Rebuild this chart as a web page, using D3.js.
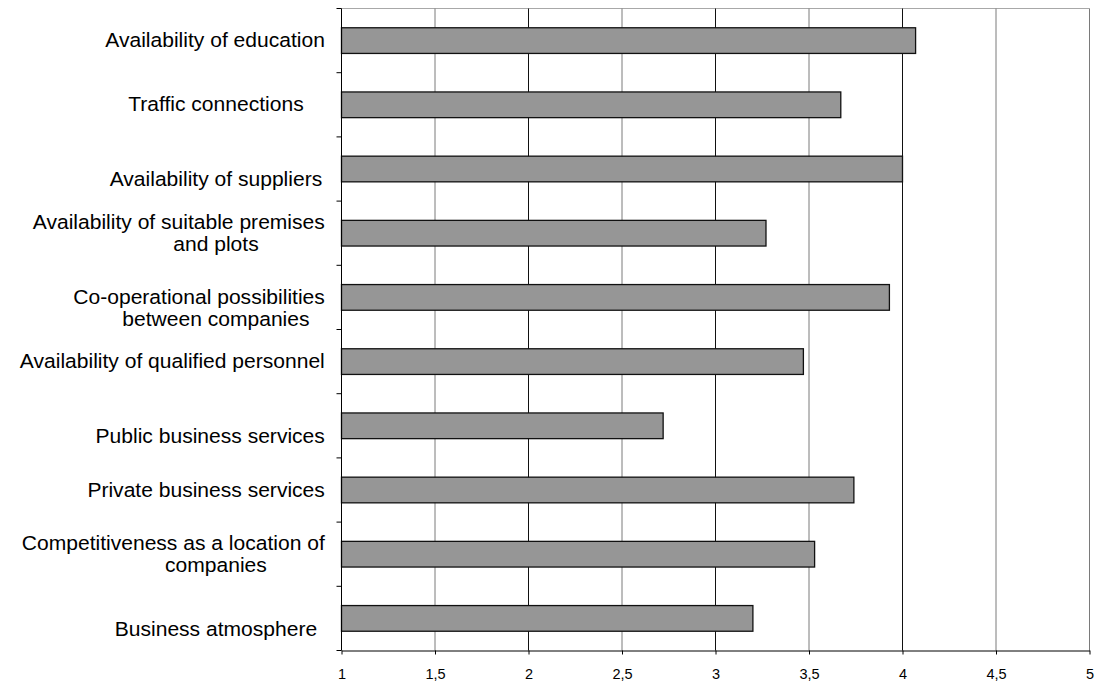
<!DOCTYPE html>
<html>
<head>
<meta charset="utf-8">
<script src="https://cdn.jsdelivr.net/npm/d3@7"></script>
<style>
  body { margin: 0; background: #fff; }
  svg { display: block; }
  text { font-family: "Liberation Sans", Arial, sans-serif; fill: #000; }
</style>
</head>
<body>
<svg id="chart" width="1096" height="684"></svg>
<script>
// Category labels (line breaks as in the source sheet)
const categories = [
  "Availability of education",
  "Traffic connections",
  "\nAvailability of suppliers",
  "Availability of suitable premises\nand plots",
  "\nCo-operational possibilities\nbetween companies",
  "Availability of qualified personnel",
  "\nPublic business services",
  "Private business services",
  "Competitiveness as a location of\ncompanies",
  "\nBusiness atmosphere"
];
// Mean rating per factor
const values = [4.07, 3.67, 4.00, 3.27, 3.93, 3.47, 2.72, 3.74, 3.53, 3.20];
// Value axis ticks
const xTicks = [1, 1.5, 2, 2.5, 3, 3.5, 4, 4.5, 5];
const xTickLabels = ["1", "1,5", "2", "2,5", "3", "3,5", "4", "4,5", "5"];

const svg = d3.select("#chart");
const plot = { left: 341.5, right: 1089.5, top: 8.5, bottom: 650.5 };

const x = d3.scaleLinear().domain([1, 5]).range([plot.left, plot.right]);
const idx = d3.range(categories.length);
const y = d3.scaleBand().domain(idx).range([plot.top, plot.bottom])
  .paddingInner(0.6).paddingOuter(0.3);
const cell = d3.scaleBand().domain(idx).range([plot.top, plot.bottom]);

// plot frame: top edge and vertical gridlines
svg.append("line")
  .attr("x1", plot.left).attr("x2", plot.right)
  .attr("y1", plot.top).attr("y2", plot.top)
  .attr("stroke", "#a8a8a8").attr("stroke-width", 1);

svg.append("g").selectAll("line")
  .data(xTicks.slice(1))
  .join("line")
  .attr("x1", d => x(d)).attr("x2", d => x(d))
  .attr("y1", plot.top).attr("y2", plot.bottom)
  .attr("stroke", (d, i) => (i % 2 === 1 && d < 5) ? "#111" : "#7a7a7a")
  .attr("stroke-width", 1);

// bars
svg.append("g").selectAll("rect")
  .data(values)
  .join("rect")
  .attr("x", x(1))
  .attr("y", (d, i) => y(i))
  .attr("width", d => x(d) - x(1))
  .attr("height", y.bandwidth())
  .attr("fill", "#969696")
  .attr("stroke", "#111")
  .attr("stroke-width", 1.3);

// category axis with ticks at band boundaries
const yAxis = svg.append("g");
yAxis.append("line")
  .attr("x1", plot.left).attr("x2", plot.left)
  .attr("y1", plot.top).attr("y2", plot.bottom)
  .attr("stroke", "#000");
yAxis.selectAll("line.tick")
  .data(idx.map(i => cell(i)).concat([plot.bottom]))
  .join("line")
  .attr("class", "tick")
  .attr("x1", plot.left - 5).attr("x2", plot.left)
  .attr("y1", d => d).attr("y2", d => d)
  .attr("stroke", "#000");

// value axis
const xAxis = svg.append("g")
  .attr("transform", `translate(0,${plot.bottom})`)
  .call(d3.axisBottom(x)
    .tickValues(xTicks)
    .tickFormat((d, i) => xTickLabels[i])
    .tickSize(4)
    .tickSizeOuter(0)
    .tickPadding(14));
xAxis.attr("font-size", null).attr("font-family", null);
xAxis.select(".domain").attr("stroke", "#000");
xAxis.selectAll(".tick line").attr("stroke", "#000");
xAxis.selectAll(".tick text")
  .style("font-family", "\"Liberation Sans\", Arial, sans-serif")
  .style("font-size", "14.5px")
  .attr("fill", "#000");

// category labels
const fontSize = 19.5, stretch = 1.08, lineH = 21.6;
const labelCenter = 216, labelMin = 11.7, labelMax = 325;
const labels = svg.append("g");
categories.forEach((label, i) => {
  const lines = label.split("\n");
  const cy = y(i) + y.bandwidth() / 2;
  lines.forEach((ln, j) => {
    if (!ln) return;
    const t = labels.append("text")
      .style("font-size", fontSize + "px")
      .attr("text-anchor", "start")
      .text(ln);
    const w = t.node().getComputedTextLength() * stretch;
    let x0 = labelCenter - w / 2;
    x0 = Math.min(x0, labelMax - w);
    x0 = Math.max(x0, labelMin);
    const base = cy + (j - (lines.length - 1) / 2) * lineH + 0.34 * fontSize;
    t.attr("transform", `translate(${x0},${base}) scale(${stretch},1)`);
  });
});
</script>
</body>
</html>
